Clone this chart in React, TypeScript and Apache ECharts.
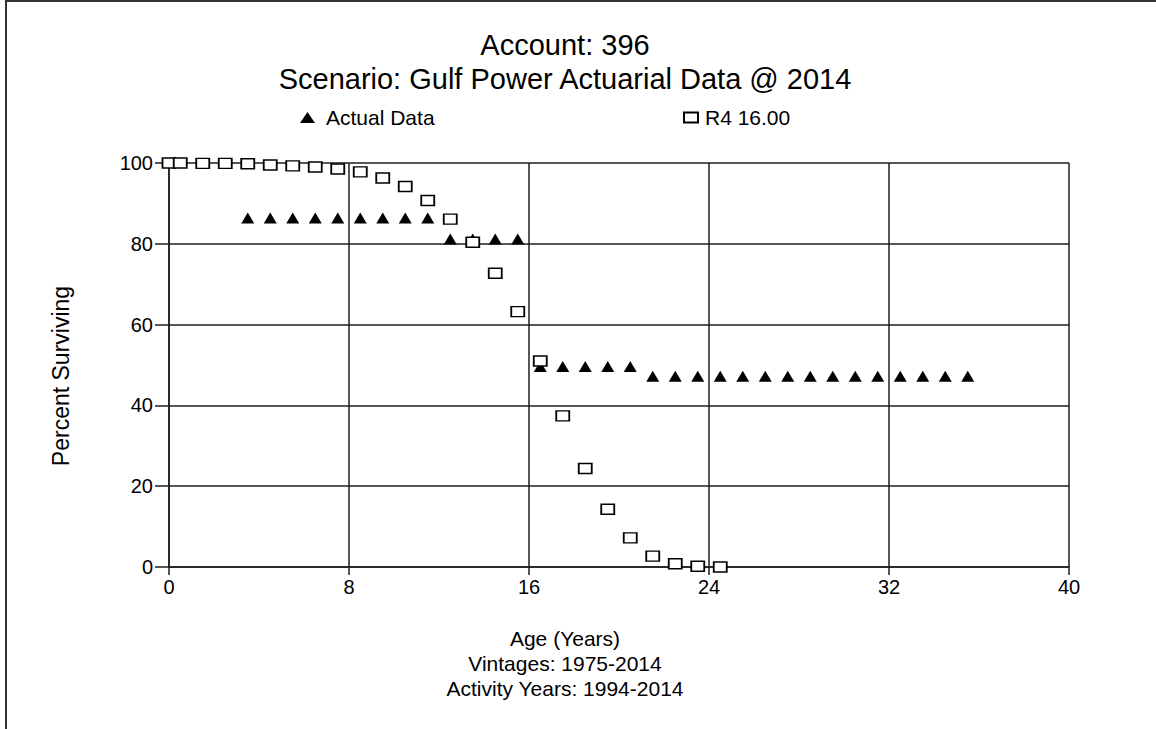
import { useEffect, useRef } from "react";
import * as echarts from "echarts";

const titleLines = ["Account: 396", "Scenario: Gulf Power Actuarial Data @ 2014"];
const xAxisLines = ["Age (Years)", "Vintages: 1975-2014", "Activity Years: 1994-2014"];
const yAxisTitle = "Percent Surviving";
const seriesNames = ["Actual Data", "R4 16.00"];

const actualAges = [
  3.5, 4.5, 5.5, 6.5, 7.5, 8.5, 9.5, 10.5, 11.5, 12.5, 13.5, 14.5, 15.5, 16.5, 17.5, 18.5, 19.5,
  20.5, 21.5, 22.5, 23.5, 24.5, 25.5, 26.5, 27.5, 28.5, 29.5, 30.5, 31.5, 32.5, 33.5, 34.5, 35.5,
];
const actualValues = [
  86.4, 86.4, 86.4, 86.4, 86.4, 86.4, 86.4, 86.4, 86.4, 81.2, 81.2, 81.2, 81.2, 49.6, 49.6, 49.6,
  49.6, 49.6, 47.2, 47.2, 47.2, 47.2, 47.2, 47.2, 47.2, 47.2, 47.2, 47.2, 47.2, 47.2, 47.2, 47.2,
  47.2,
];

const curveAges = [
  0, 0.5, 1.5, 2.5, 3.5, 4.5, 5.5, 6.5, 7.5, 8.5, 9.5, 10.5, 11.5, 12.5, 13.5, 14.5, 15.5, 16.5,
  17.5, 18.5, 19.5, 20.5, 21.5, 22.5, 23.5, 24.5,
];
const curveValues = [
  100, 100, 99.9, 99.9, 99.8, 99.5, 99.3, 99.0, 98.5, 97.8, 96.3, 94.2, 90.7, 86.1, 80.4, 72.7,
  63.2, 51.0, 37.4, 24.4, 14.3, 7.2, 2.7, 0.8, 0.2, 0.0,
];

const xMin = 0;
const xMax = 40;
const xStep = 8;
const yMin = 0;
const yMax = 100;
const yStep = 20;

const FONT = "'Liberation Sans', Arial, sans-serif";
const INK = "#1e1e1e";

export default function App() {
  const ref = useRef<HTMLDivElement>(null);

  useEffect(() => {
    if (!ref.current) return;
    const chart = echarts.init(ref.current, null, { renderer: "svg" });

    const option: any = {
      animation: false,
      backgroundColor: "#ffffff",
      textStyle: { fontFamily: FONT, color: "#000" },
      grid: { left: 169, right: 87, top: 163, bottom: 162, containLabel: false },
      legend: [
        {
          data: [{ name: seriesNames[0], icon: "triangle" }],
          left: 300,
          top: 107,
          padding: 0,
          itemWidth: 15,
          itemHeight: 11,
          selectedMode: false,
          textStyle: { fontFamily: FONT, fontSize: 21, color: "#000", padding: [0, 0, 0, 6] },
        },
        {
          data: [{ name: seriesNames[1], icon: "rect" }],
          left: 683,
          top: 107,
          padding: 0,
          itemWidth: 14,
          itemHeight: 10,
          selectedMode: false,
          textStyle: { fontFamily: FONT, fontSize: 21, color: "#000", padding: [0, 0, 0, 2] },
        },
      ],
      xAxis: {
        type: "value",
        min: xMin,
        max: xMax,
        interval: xStep,
        axisLine: { show: true, onZero: false, lineStyle: { color: INK, width: 1.5 } },
        axisTick: { show: true, inside: false, length: 8, lineStyle: { color: INK, width: 1.5 } },
        axisLabel: { fontFamily: FONT, fontSize: 20, color: "#000", margin: 10 },
        splitLine: { show: true, lineStyle: { color: INK, width: 1.5 } },
      },
      yAxis: {
        type: "value",
        min: yMin,
        max: yMax,
        interval: yStep,
        axisLine: { show: true, onZero: false, lineStyle: { color: INK, width: 1.5 } },
        axisTick: { show: true, inside: false, length: 14, lineStyle: { color: INK, width: 1.5 } },
        axisLabel: { fontFamily: FONT, fontSize: 20, color: "#000", margin: 16 },
        splitLine: { show: true, lineStyle: { color: INK, width: 1.5 } },
      },
      series: [
        {
          name: seriesNames[0],
          type: "scatter",
          symbol: "triangle",
          symbolSize: [13, 11],
          itemStyle: { color: "#000", opacity: 1 },
          data: actualAges.map((a, i) => [a, actualValues[i]]),
          z: 3,
        },
        {
          name: seriesNames[1],
          type: "scatter",
          symbol: "rect",
          symbolSize: [13, 10],
          itemStyle: { color: "#fff", borderColor: "#000", borderWidth: 1.6, opacity: 1 },
          data: curveAges.map((a, i) => [a, curveValues[i]]),
          z: 4,
        },
      ],
      graphic: [
        {
          type: "line",
          shape: { x1: 5, y1: 1, x2: 1156, y2: 1 },
          style: { stroke: "#333", lineWidth: 2 },
          silent: true,
        },
        {
          type: "line",
          shape: { x1: 6, y1: 0, x2: 6, y2: 729 },
          style: { stroke: "#333", lineWidth: 2 },
          silent: true,
        },
        {
          type: "text",
          x: 565,
          y: 45,
          style: {
            text: titleLines[0],
            fontFamily: FONT,
            fontSize: 29,
            fill: "#000",
            align: "center",
            verticalAlign: "middle",
          },
        },
        {
          type: "text",
          x: 565,
          y: 79,
          style: {
            text: titleLines[1],
            fontFamily: FONT,
            fontSize: 29,
            fill: "#000",
            align: "center",
            verticalAlign: "middle",
          },
        },
        {
          type: "text",
          x: 61,
          y: 376,
          rotation: Math.PI / 2,
          style: {
            text: yAxisTitle,
            fontFamily: FONT,
            fontSize: 23,
            fill: "#000",
            align: "center",
            verticalAlign: "middle",
          },
        },
        ...xAxisLines.map((t, i) => ({
          type: "text",
          x: 565,
          y: 638 + i * 25,
          style: {
            text: t,
            fontFamily: FONT,
            fontSize: 21,
            fill: "#000",
            align: "center",
            verticalAlign: "middle",
          },
        })),
      ],
    };

    chart.setOption(option);
    return () => {
      chart.dispose();
    };
  }, []);

  return (
    <div
      ref={ref}
      style={{ position: "fixed", left: 0, top: 0, width: 1156, height: 729, background: "#fff" }}
    />
  );
}
